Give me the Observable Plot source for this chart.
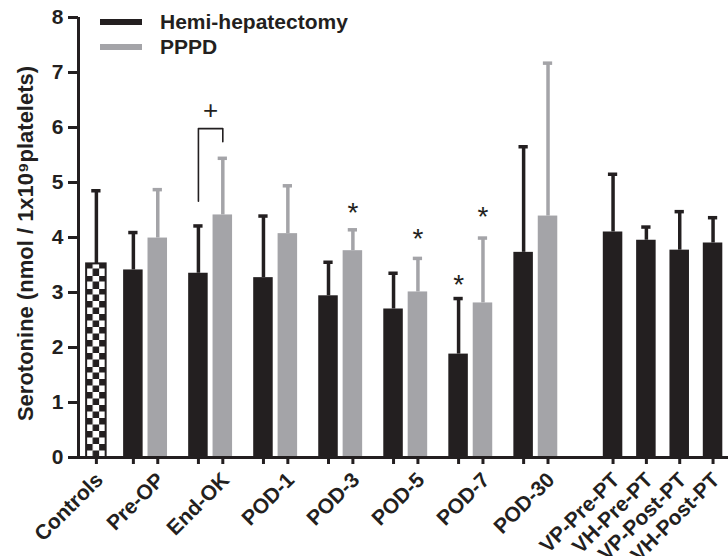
<!DOCTYPE html>
<html>
<head>
<meta charset="utf-8">
<script src="https://cdn.jsdelivr.net/npm/d3@7"></script>
<script src="https://cdn.jsdelivr.net/npm/@observablehq/plot@0.6"></script>
<style>
  body { margin: 0; background: #fff; }
  #wrap { position: relative; width: 728px; height: 556px; font-family: "Liberation Sans", Arial, sans-serif; }
  #legend { position: absolute; left: 100px; top: 9px; font-weight: bold; font-size: 21px; color: #231f20; }
  #legend .row { display: flex; align-items: center; height: 25.5px; }
  #legend .sw { width: 42px; height: 6px; margin-right: 18px; }
</style>
</head>
<body>
<div id="wrap"><div id="chart"></div><div id="legend"></div></div>
<script>
// ---------- data ----------
const controlsCategory = ["Controls"];
const controlsMean = [3.52];
const controlsSD = [1.33];

const groups = ["Pre-OP", "End-OK", "POD-1", "POD-3", "POD-5", "POD-7", "POD-30"];
const seriesNames = ["Hemi-hepatectomy", "PPPD"];
const seriesColors = ["#231f20", "#a4a4a8"];
const hemiMeans = [3.41, 3.35, 3.27, 2.94, 2.70, 1.88, 3.73];
const hemiSDs   = [0.68, 0.86, 1.12, 0.61, 0.65, 1.01, 1.92];
const pppdMeans = [3.99, 4.41, 4.07, 3.76, 3.01, 2.81, 4.39];
const pppdSDs   = [0.88, 1.03, 0.87, 0.38, 0.61, 1.18, 2.78];

const portalCategories = ["VP-Pre-PT", "VH-Pre-PT", "VP-Post-PT", "VH-Post-PT"];
const portalMeans = [4.10, 3.95, 3.77, 3.90];
const portalSDs   = [1.05, 0.24, 0.70, 0.46];

const yTicks = [0, 1, 2, 3, 4, 5, 6, 7, 8];
const yLabel = "Serotonine (nmol / 1x10⁹platelets)";

// significance annotations
const starGroups = ["POD-3", "POD-5", "POD-7", "POD-7"];
const starSeries = ["PPPD", "PPPD", "PPPD", "Hemi-hepatectomy"];
const starY = [4.57, 4.10, 4.50, 3.27];
const bracketGroup = "End-OK";
const bracketY = [4.66, 5.98, 5.98, 5.74];
const bracketMark = "+";
const bracketMarkY = 6.30;

// ---------- layout (slot units) ----------
const GROUP_STEP = 8, PAIR_OFFSET = 3, CONTROL_GAP = 4.55, PORTAL_GAP = 8, PORTAL_STEP = 4.1;
const HALF = 1.2, CAP = 0.57;

const bars = [];
controlsCategory.forEach((c, i) => bars.push({cat: c, series: "Controls", pos: -CONTROL_GAP, mean: controlsMean[i], sd: controlsSD[i], labelled: true}));
groups.forEach((g, i) => {
  const base = i * GROUP_STEP;
  bars.push({cat: g, series: seriesNames[0], pos: base, mean: hemiMeans[i], sd: hemiSDs[i], labelled: false});
  bars.push({cat: g, series: seriesNames[1], pos: base + PAIR_OFFSET, mean: pppdMeans[i], sd: pppdSDs[i], labelled: true});
});
const portalStart = (groups.length - 1) * GROUP_STEP + PAIR_OFFSET + PORTAL_GAP;
portalCategories.forEach((c, i) => bars.push({cat: c, series: seriesNames[0], pos: portalStart + i * PORTAL_STEP, mean: portalMeans[i], sd: portalSDs[i], labelled: true}));

const posOf = (cat, ser) => bars.find(b => b.cat === cat && b.series === ser).pos;
const stars = starGroups.map((g, i) => ({pos: posOf(g, starSeries[i]), y: starY[i]}));
const bx0 = posOf(bracketGroup, seriesNames[0]), bx1 = posOf(bracketGroup, seriesNames[1]);
const bracket = [bx0, bx0, bx1, bx1].map((x, i) => ({x, y: bracketY[i]}));
const bracketText = [{x: (bx0 + bx1) / 2, y: bracketMarkY, t: bracketMark}];

const xMin = bars[0].pos - 2.2;
const xMax = bars[bars.length - 1].pos + 1.9;

const ctrl = bars.filter(b => b.series === "Controls");
const hemi = bars.filter(b => b.series === seriesNames[0]);
const pppd = bars.filter(b => b.series === seriesNames[1]);

const defsMark = (index, scales) => {
  const defs = d3.create("svg:defs");
  const s = 6.5;
  const p = defs.append("pattern").attr("id", "checker").attr("patternUnits", "userSpaceOnUse")
    .attr("width", 2 * s).attr("height", 2 * s)
    .attr("x", scales.x(ctrl[0].pos - HALF)).attr("y", scales.y(0));
  p.append("rect").attr("width", 2 * s).attr("height", 2 * s).attr("fill", "#fff");
  p.append("rect").attr("width", s).attr("height", s).attr("fill", "#231f20");
  p.append("rect").attr("x", s).attr("y", s).attr("width", s).attr("height", s).attr("fill", "#231f20");
  return defs.node();
};

const barMarks = (data, color, extra = {}) => {
  const line = color.startsWith("url(") ? "#231f20" : color;
  return [
    Plot.rect(data, {x1: d => d.pos - HALF, x2: d => d.pos + HALF, y1: 0, y2: "mean", fill: color, ...extra}),
    Plot.ruleX(data, {x: "pos", y1: "mean", y2: d => d.mean + d.sd, stroke: line, strokeWidth: 3.5}),
    Plot.ruleY(data, {y: d => d.mean + d.sd, x1: d => d.pos - CAP, x2: d => d.pos + CAP, stroke: line, strokeWidth: 3.5})
  ];
};

const chart = Plot.plot({
  width: 728,
  height: 556,
  marginLeft: 78,
  marginRight: 0,
  marginTop: 17,
  marginBottom: 99,
  style: {fontFamily: "'Liberation Sans', Arial, sans-serif", fontSize: "21px", fontWeight: "bold", color: "#231f20", background: "#fff"},
  x: {type: "linear", domain: [xMin, xMax]},
  y: {domain: [0, 8]},
  marks: [
    defsMark,
    ...barMarks(ctrl, "url(#checker)", {stroke: "#231f20", strokeWidth: 2}),
    ...barMarks(hemi, seriesColors[0]),
    ...barMarks(pppd, seriesColors[1]),
    Plot.ruleY([0], {stroke: "#231f20", strokeWidth: 3}),
    Plot.ruleX([xMin], {y1: 0, y2: 8, stroke: "#231f20", strokeWidth: 3}),
    Plot.axisY(yTicks, {tickSize: 10, tickPadding: 5, strokeWidth: 3, stroke: "#231f20", fontSize: 21, fontWeight: "bold", tickFormat: d => String(d), label: null}),
    Plot.axisX(bars.map(b => b.pos), {tickSize: 7, strokeWidth: 3, stroke: "#231f20", tickFormat: () => "", label: null}),
    Plot.text(bars.filter(b => b.labelled), {x: "pos", frameAnchor: "bottom", text: "cat", dx: 3, dy: 19, rotate: -45, textAnchor: "end", lineAnchor: "middle", fontSize: 21, fontWeight: "bold", fill: "#231f20"}),
    Plot.text([yLabel], {frameAnchor: "left", dx: -53, dy: 6, rotate: -90, textAnchor: "middle", lineAnchor: "middle", fontSize: 22, fontWeight: "bold", fill: "#231f20"}),
    Plot.line(bracket, {x: "x", y: "y", stroke: "#231f20", strokeWidth: 1.6}),
    Plot.text(bracketText, {x: "x", y: "y", text: "t", fontSize: 26, fontWeight: "normal", fill: "#231f20", lineAnchor: "middle"}),
    Plot.text(stars, {x: "pos", y: "y", text: () => "*", fontSize: 28, fontWeight: "normal", dy: 7, fill: "#231f20", lineAnchor: "middle"})
  ]
});
document.getElementById("chart").appendChild(chart);

// legend (inside plot area, top-left)
const legend = d3.select("#legend");
seriesNames.forEach((name, i) => {
  const row = legend.append("div").attr("class", "row");
  row.append("div").attr("class", "sw").style("background", seriesColors[i]);
  row.append("span").text(name);
});
</script>
</body>
</html>
